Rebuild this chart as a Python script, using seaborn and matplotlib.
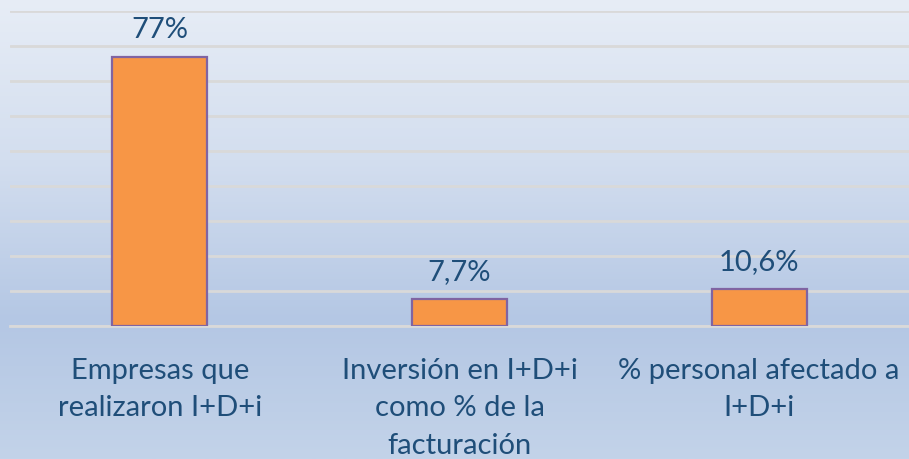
import numpy as np
import pandas as pd
import matplotlib
matplotlib.use("Agg")
import matplotlib.pyplot as plt
from matplotlib.colors import LinearSegmentedColormap
import seaborn as sns

categories = ["Empresas que\nrealizaron I+D+i",
              "Inversión en I+D+i\ncomo % de la\nfacturación",
              "% personal afectado a\nI+D+i"]
values = [77, 7.7, 10.6]
value_labels = ["77%", "7,7%", "10,6%"]

sns.set_theme(style="white")
plt.rcParams['font.family'] = ['Lato', 'DejaVu Sans']

W, H = 909, 460
fig = plt.figure(figsize=(W / 100, H / 100), dpi=100)

# gradient background
bg = fig.add_axes([0, 0, 1, 1], zorder=0)
cmap = LinearSegmentedColormap.from_list(
    "bg", [(0.0, "#e7edf6"), (0.35, "#d3deef"), (0.7, "#b4c7e4"), (1.0, "#c3d3e9")])
grad = np.linspace(0, 1, 256).reshape(-1, 1)
bg.imshow(grad, aspect="auto", cmap=cmap, extent=[0, 1, 0, 1], origin="upper")
bg.axis("off")

ax = fig.add_axes([10 / W, 1 - 327 / H, 1 - 10 / W, (327 - 12) / H], zorder=1)
ax.patch.set_alpha(0)

df = pd.DataFrame({"cat": categories, "val": values})
sns.barplot(data=df, x="cat", y="val", ax=ax, color="#f79646", width=0.317,
            edgecolor="#8064a2", linewidth=1.6, saturation=1, zorder=3)

ax.set_ylim(0, 90)
ax.set_xlim(-0.5, 2.5)
ax.set_yticks(np.arange(0, 91, 10))
ax.yaxis.grid(True, color="#d9d9d9", linewidth=2)
ax.set_axisbelow(True)
ax.tick_params(axis="y", left=False, labelleft=False)
ax.tick_params(axis="x", bottom=False, pad=16)
for s in ["top", "right", "left"]:
    ax.spines[s].set_visible(False)
ax.spines["bottom"].set_color("#d9d9d9")
ax.spines["bottom"].set_linewidth(2)
ax.set_xlabel("")
ax.set_ylabel("")

txt_color = "#1f4e79"
ax.set_xticks(range(len(categories)))
ax.set_xticklabels(categories, fontsize=21, color=txt_color, linespacing=1.55, va="top")

for i, (v, lab) in enumerate(zip(values, value_labels)):
    ax.annotate(lab, (i, v), xytext=(0, 20), textcoords="offset points",
                ha="center", va="center", fontsize=21, color=txt_color)

fig.savefig("out.png", dpi=100)
